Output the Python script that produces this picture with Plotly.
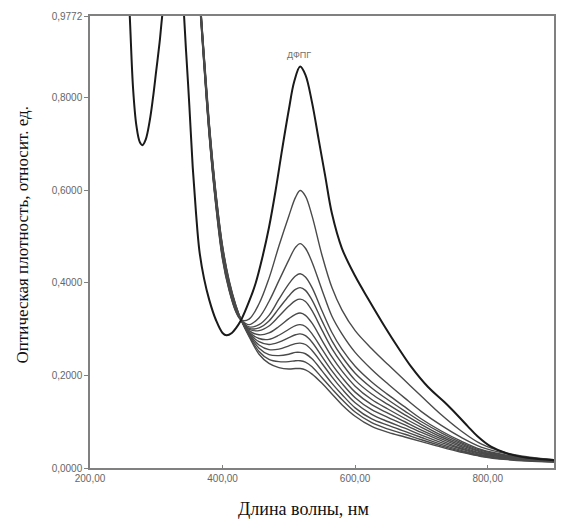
import plotly.graph_objects as go

# Step 1: data
# DPPH (ДФПГ) reference spectrum
dpph_wl = [250, 255, 260, 265, 270, 275, 279, 284, 290, 295, 300, 305, 310, 320, 330, 338,
           345, 350, 355, 360, 365, 372, 380, 390, 400, 406, 414, 420, 428, 440, 450, 460,
           470, 480, 490, 500, 508, 517, 525, 535, 545, 555, 565, 580, 600, 620, 645, 665,
           685, 710, 735, 755, 770, 785, 805, 830, 860, 900]
dpph_abs = [1.30, 1.12, 0.977, 0.82, 0.74, 0.705, 0.698, 0.71, 0.75, 0.80, 0.86, 0.92, 0.99, 1.08, 1.12, 1.05,
            0.90, 0.78, 0.65, 0.55, 0.47, 0.41, 0.363, 0.32, 0.292, 0.287, 0.292, 0.302, 0.32, 0.36, 0.40, 0.455,
            0.52, 0.60, 0.69, 0.775, 0.835, 0.868, 0.85, 0.79, 0.71, 0.63, 0.55, 0.475, 0.415, 0.365, 0.305, 0.26,
            0.218, 0.175, 0.142, 0.113, 0.09, 0.068, 0.046, 0.031, 0.022, 0.017]

# reaction mixture spectra (DPPH + sample), all sharing one wavelength grid
mix_wl = [360, 370, 380, 390, 400, 410, 420, 428, 440, 455, 470, 485, 500, 510, 517, 525,
          535, 550, 565, 580, 600, 625, 650, 675, 700, 730, 760, 790, 830, 860, 900]

mix_1 = [1.12, 0.91, 0.715, 0.565, 0.45, 0.383, 0.338, 0.32, 0.322, 0.355, 0.41, 0.48, 0.545, 0.585, 0.60, 0.588,
         0.545, 0.46, 0.39, 0.342, 0.297, 0.258, 0.223, 0.189, 0.155, 0.115, 0.08, 0.052, 0.032, 0.024, 0.018]
mix_2 = [1.12, 0.912, 0.718, 0.568, 0.453, 0.385, 0.339, 0.32, 0.31, 0.325, 0.36, 0.405, 0.45, 0.477, 0.485, 0.475,
         0.445, 0.385, 0.328, 0.29, 0.25, 0.213, 0.181, 0.151, 0.122, 0.092, 0.066, 0.045, 0.03, 0.023, 0.018]
mix_3 = [1.124, 0.915, 0.72, 0.57, 0.456, 0.387, 0.34, 0.32, 0.305, 0.31, 0.33, 0.365, 0.398, 0.415, 0.42, 0.413,
         0.39, 0.34, 0.293, 0.257, 0.22, 0.186, 0.158, 0.132, 0.106, 0.08, 0.058, 0.04, 0.027, 0.021, 0.017]
mix_4 = [1.125, 0.918, 0.723, 0.573, 0.459, 0.389, 0.341, 0.32, 0.302, 0.303, 0.318, 0.345, 0.372, 0.386, 0.39, 0.384,
         0.363, 0.318, 0.275, 0.241, 0.205, 0.173, 0.147, 0.123, 0.10, 0.076, 0.055, 0.038, 0.026, 0.02, 0.016]
mix_5 = [1.127, 0.92, 0.726, 0.576, 0.462, 0.391, 0.343, 0.32, 0.30, 0.297, 0.307, 0.328, 0.35, 0.362, 0.365, 0.36,
         0.34, 0.298, 0.258, 0.226, 0.19, 0.16, 0.137, 0.115, 0.094, 0.071, 0.052, 0.036, 0.025, 0.02, 0.016]
mix_6 = [1.13, 0.923, 0.73, 0.58, 0.465, 0.393, 0.344, 0.32, 0.297, 0.288, 0.292, 0.306, 0.323, 0.332, 0.335, 0.33,
         0.313, 0.276, 0.24, 0.21, 0.177, 0.148, 0.127, 0.107, 0.088, 0.067, 0.049, 0.034, 0.024, 0.019, 0.015]
mix_7 = [1.131, 0.925, 0.732, 0.582, 0.467, 0.395, 0.345, 0.32, 0.294, 0.28, 0.278, 0.287, 0.30, 0.308, 0.31, 0.306,
         0.29, 0.257, 0.224, 0.196, 0.164, 0.137, 0.118, 0.10, 0.082, 0.063, 0.046, 0.032, 0.023, 0.018, 0.015]
mix_8 = [1.133, 0.927, 0.735, 0.585, 0.47, 0.397, 0.347, 0.32, 0.292, 0.273, 0.267, 0.272, 0.282, 0.288, 0.29, 0.286,
         0.272, 0.241, 0.21, 0.183, 0.152, 0.126, 0.109, 0.093, 0.077, 0.059, 0.043, 0.031, 0.022, 0.018, 0.015]
mix_9 = [1.135, 0.93, 0.738, 0.588, 0.473, 0.399, 0.348, 0.32, 0.29, 0.266, 0.256, 0.257, 0.264, 0.269, 0.27, 0.267,
         0.254, 0.226, 0.197, 0.171, 0.141, 0.116, 0.10, 0.086, 0.071, 0.055, 0.041, 0.029, 0.021, 0.017, 0.014]
mix_10 = [1.137, 0.932, 0.74, 0.59, 0.476, 0.401, 0.35, 0.32, 0.288, 0.259, 0.245, 0.243, 0.246, 0.25, 0.25, 0.247,
          0.236, 0.21, 0.183, 0.159, 0.13, 0.106, 0.092, 0.079, 0.066, 0.051, 0.038, 0.027, 0.02, 0.016, 0.014]
mix_11 = [1.138, 0.934, 0.742, 0.593, 0.478, 0.403, 0.351, 0.32, 0.286, 0.252, 0.235, 0.23, 0.23, 0.232, 0.232, 0.229,
          0.219, 0.195, 0.171, 0.148, 0.121, 0.098, 0.084, 0.073, 0.061, 0.048, 0.036, 0.026, 0.019, 0.016, 0.013]
mix_12 = [1.14, 0.935, 0.745, 0.595, 0.48, 0.405, 0.352, 0.32, 0.284, 0.246, 0.226, 0.217, 0.214, 0.215, 0.215, 0.212,
          0.203, 0.183, 0.16, 0.137, 0.112, 0.09, 0.077, 0.067, 0.057, 0.045, 0.034, 0.025, 0.018, 0.015, 0.013]
mix_series = [mix_1, mix_2, mix_3, mix_4, mix_5, mix_6, mix_7, mix_8, mix_9, mix_10, mix_11, mix_12]

# tick labels as printed by the spectrophotometer software
x_ticks = [200, 400, 600, 800, 900]
x_labels = ["200,00", "400,00", "600,00", "800,00", "900,00"]
y_ticks = [0.0, 0.2, 0.4, 0.6, 0.8, 0.9772]
y_labels = ["0,0000", "0,2000", "0,4000", "0,6000", "0,8000", "0,9772"]

# Step 2: build the figure
fig = go.Figure()

for ys in mix_series:
    fig.add_trace(go.Scatter(x=mix_wl, y=ys, mode="lines", line_shape="spline",
                             line=dict(color="#4a4a4a", width=1.4), showlegend=False))

fig.add_trace(go.Scatter(x=dpph_wl, y=dpph_abs, mode="lines", line_shape="spline",
                         line=dict(color="#1a1a1a", width=2), showlegend=False))

# peak label
fig.add_annotation(x=515, y=0.893, xref="x", yref="y", text="ДФПГ", showarrow=False,
                   font=dict(family="Liberation Sans", size=9, color="#707070"), yanchor="middle")

# axis titles, placed by hand like in the source image
fig.add_annotation(x=0.46, y=-0.091, xref="paper", yref="paper", text="Длина волны, нм",
                   showarrow=False, xanchor="center", yanchor="middle",
                   font=dict(family="Liberation Serif", size=18, color="#111111"))
fig.add_annotation(x=-0.146, y=0.515, xref="paper", yref="paper",
                   text="Оптическая плотность, относит. ед.", textangle=-90,
                   showarrow=False, xanchor="center", yanchor="middle",
                   font=dict(family="Liberation Serif", size=17, color="#111111"))

fig.update_xaxes(range=[200, 900], tickvals=x_ticks, ticktext=x_labels,
                 showgrid=False, zeroline=False, showline=True, linecolor="#808080", linewidth=1.5,
                 mirror=True, ticks="inside", ticklen=3, tickcolor="#808080",
                 tickfont=dict(family="Liberation Sans", size=10, color="#666666"))
fig.update_yaxes(range=[0, 0.9772], tickvals=y_ticks, ticktext=y_labels,
                 showgrid=False, zeroline=False, showline=True, linecolor="#808080", linewidth=1.5,
                 mirror=True, ticks="outside", ticklen=4, tickcolor="#808080",
                 tickfont=dict(family="Liberation Sans", size=10, color="#666666"))

# the page body adds an 8px margin, so the figure is a bit smaller than the window
fig.update_layout(width=549, height=513, plot_bgcolor="white", paper_bgcolor="white",
                  margin=dict(l=82, r=1, t=8, b=53), showlegend=False)

# Step 3: save
fig.write_html("out.html")
